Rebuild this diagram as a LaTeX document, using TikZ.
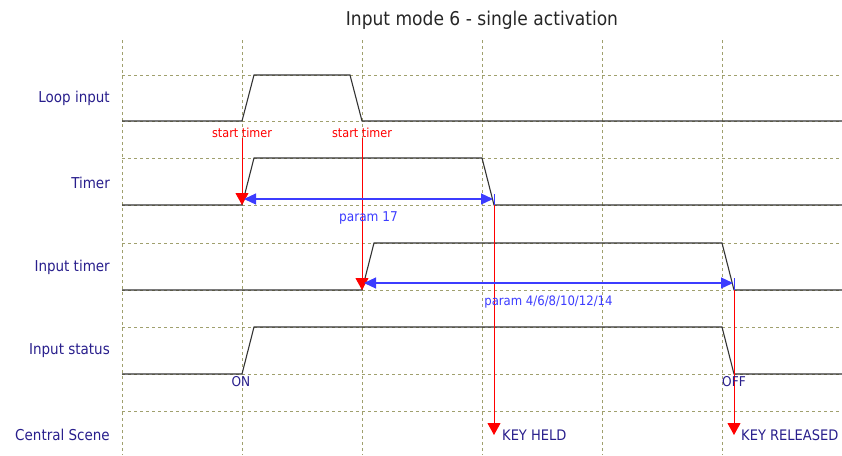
\documentclass[tikz,border=0pt]{standalone}
\usepackage{fontspec}
\setmainfont{DejaVu Sans Condensed}
\usepackage{tikz}
\usetikzlibrary{arrows.meta}
\definecolor{gridcol}{RGB}{160,160,110}
\definecolor{labelcol}{RGB}{40,30,140}
\definecolor{paramcol}{RGB}{60,60,255}
\tikzstyle{grid} = [gridcol, dash pattern=on 3pt off 3pt, line width=0.9pt]
\tikzstyle{signal} = [black!80, line width=1.1pt]
\tikzstyle{rowlabel} = [anchor=east, inner sep=0pt, text=labelcol, font=\fontsize{15}{15}\selectfont]
\tikzstyle{note} = [inner sep=0pt, font=\fontsize{12.5}{12.5}\selectfont]
\tikzstyle{trigger} = [red, line width=0.9pt, -{Triangle[width=13pt,length=12pt]}]
\tikzstyle{span} = [paramcol, line width=1.2pt, {Triangle[width=11pt,length=12pt]}-{Triangle[width=11pt,length=12pt]}]

\begin{document}
\begin{tikzpicture}[x=1pt, y=-1pt]
        \useasboundingbox (0,0) rectangle (842,455);
        \node (title) at (482,20) [font=\fontsize{19}{19}\selectfont, text=black!85] {Input mode 6 - single activation};
        % grid
        \foreach \gx in {122,242,...,722}
            \draw [grid] (\gx,40) -- (\gx,455);
        \foreach \gy in {75,121,158,205,243,290,327,374,411}
            \draw [grid] (122,\gy) -- (842,\gy);
        % row labels
        \node (loop) [rowlabel] at (110,98) {Loop input};
        \node (timer) [rowlabel] at (110,183) {Timer};
        \node (intimer) [rowlabel] at (110,267) {Input timer};
        \node (status) [rowlabel] at (110,351) {Input status};
        \node (scene) [rowlabel] at (110,435) {Central Scene};
        % signals
        \draw [signal] (122,121) -- (242,121) -- (254,75) -- (350,75) -- (362,121) -- (842,121);
        \draw [signal] (122,205) -- (242,205) -- (254,158) -- (482,158) -- (494,205) -- (842,205);
        \draw [signal] (122,290) -- (362,290) -- (374,243) -- (722,243) -- (734,290) -- (842,290);
        \draw [signal] (122,374) -- (242,374) -- (254,327) -- (722,327) -- (734,374) -- (842,374);
        \coordinate (timeron) at (242,205);
        \coordinate (timeroff) at (494,205);
        \coordinate (inon) at (362,290);
        \coordinate (inoff) at (734,290);
        \coordinate (spanastart) at (244,199);
        \coordinate (spanaend) at (493,199);
        \coordinate (spanbstart) at (364,283);
        \coordinate (spanbend) at (733,283);
        % triggers
        \node (start1) [note, text=red] at (242,133) {start timer};
        \node (start2) [note, text=red] at (362,133) {start timer};
        \draw [trigger] (start1.south) -- (timeron);
        \draw [trigger] (start2.south) -- (inon);
        \node (held) [note, anchor=west, text=labelcol, font=\fontsize{14.5}{14.5}\selectfont] at (502,435) {KEY HELD};
        \node (released) [note, anchor=west, text=labelcol, font=\fontsize{14.5}{14.5}\selectfont] at (741,435) {KEY RELEASED};
        \draw [trigger] (timeroff) -- (held.west -| timeroff);
        \draw [trigger] (inoff) -- (released.west -| inoff);
        % durations
        \draw [span] (spanastart) -- node (p17) [note, text=paramcol, yshift=-19pt, font=\fontsize{13.5}{13.5}\selectfont] {param 17} (spanaend);
        \draw [span] (spanbstart) -- node (pmany) [note, text=paramcol, yshift=-19pt, font=\fontsize{13}{13}\selectfont] {param 4/6/8/10/12/14} (spanbend);
        \draw [paramcol, line width=1pt] (494,194) -- (timeroff);
        \draw [paramcol, line width=1pt] (734,278) -- (inoff);
        % states
        \node (on) [note, text=labelcol, font=\fontsize{13.5}{13.5}\selectfont] at (241,382) {ON};
        \node (off) [note, text=labelcol, font=\fontsize{13.5}{13.5}\selectfont] at (734,382) {OFF};
    \end{tikzpicture}
\end{document}
